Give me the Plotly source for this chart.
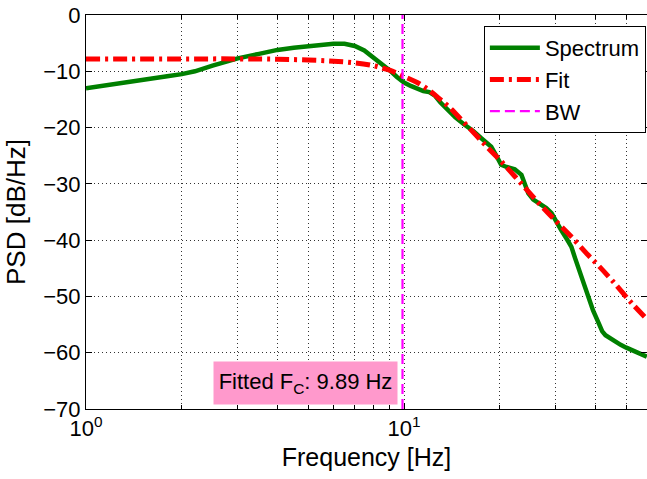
import numpy as np
import plotly.graph_objects as go

# Measured PSD spectrum (frequency in Hz, level in dB/Hz)
spec_freq = [1.0, 1.2, 1.5, 1.8, 2.0, 2.2, 2.5, 2.8, 3.0, 3.5, 4.0, 4.5, 5.0, 5.5,
             6.0, 6.5, 7.0, 7.5, 8.0, 8.5, 9.0, 9.5, 10.0, 10.5, 11.0, 11.5, 12.0,
             12.5, 13.0, 13.7, 14.5, 15.5, 16.5, 17.5, 18.8, 19.5, 20.2, 21.0, 22.3,
             23.4, 24.0, 24.6, 25.5, 26.5, 28.0, 29.1, 30.0, 31.2, 32.5, 33.6, 34.5,
             35.5, 36.7, 38.0, 39.3, 40.9, 42.0, 43.0, 44.5, 46.0, 48.0, 50.0, 53.0,
             56.0, 58.0]
spec_db = [-13.0, -12.4, -11.6, -10.9, -10.5, -10.0, -9.0, -8.2, -7.7, -6.9, -6.2,
           -5.8, -5.5, -5.3, -5.1, -5.1, -5.5, -6.3, -7.5, -8.6, -9.8, -11.0, -12.0,
           -12.6, -13.1, -13.5, -13.7, -14.3, -15.5, -16.9, -18.2, -19.5, -20.6,
           -21.9, -23.4, -25.0, -26.6, -27.0, -27.4, -28.4, -30.2, -31.7, -32.8,
           -33.4, -34.3, -35.2, -36.6, -38.2, -39.8, -41.2, -43.2, -45.3, -47.6,
           -50.0, -52.5, -54.7, -56.2, -56.9, -57.5, -58.1, -58.6, -59.1, -59.7,
           -60.3, -60.7]

# Fitted low-pass model
fit_freq = [1.0, 2.0, 3.0, 4.0, 5.0, 6.0, 7.0, 8.0, 8.5, 9.0, 9.89, 11.0, 12.0,
            13.0, 14.0, 15.2, 17.0, 18.5, 20.2, 23.0, 26.6, 30.0, 33.6, 38.0, 41.0,
            45.0, 52.0, 58.0]
fit_db = [-7.8, -7.8, -7.8, -7.85, -8.0, -8.2, -8.5, -9.0, -9.4, -9.8, -10.8,
          -12.0, -13.4, -15.0, -16.6, -18.7, -21.6, -23.8, -26.0, -29.5, -33.5,
          -36.6, -39.4, -42.7, -44.6, -47.1, -51.2, -54.0]

# Fitted cutoff frequency
fc_hz = 9.89
y_range = [-70, 0]

minor_x = [2, 3, 4, 5, 6, 7, 8, 9, 20, 30, 40, 50]

fig = go.Figure()
fig.add_trace(go.Scatter(x=spec_freq, y=spec_db, mode="lines", name="Spectrum",
                         line=dict(color="#008000", width=4.5)))
fig.add_trace(go.Scatter(x=fit_freq, y=fit_db, mode="lines", name="Fit",
                         line=dict(color="#ff0000", width=5, shape="spline",
                                   dash="14px,5px,3px,5px")))
fig.add_trace(go.Scatter(x=[fc_hz, fc_hz], y=y_range, mode="lines", name="BW",
                         line=dict(color="#ff00ff", width=2.2, dash="10px,5px")))

fig.add_annotation(
    x=np.log10(2.5), y=-65.3, xref="x", yref="y",
    xanchor="left", yanchor="middle",
    text=f"Fitted F<sub>C</sub>: {fc_hz:.2f} Hz",
    showarrow=False, bgcolor="#ff99cc", width=179, height=38, borderpad=2,
    font=dict(family="Liberation Sans, Arial", size=22, color="black"),
)

grid = dict(showgrid=True, gridcolor="rgba(0,0,0,0.8)", gridwidth=1, griddash="1px,3px")

fig.update_layout(
    width=647, height=479,
    margin=dict(l=86, r=0, t=15, b=70),
    paper_bgcolor="white", plot_bgcolor="white",
    font=dict(family="Liberation Sans, Arial", size=22, color="black"),
    showlegend=True,
    legend=dict(x=0.998, y=0.972, xanchor="right", yanchor="top",
                bgcolor="white", bordercolor="black", borderwidth=1,
                font=dict(size=22), itemwidth=50, tracegroupgap=0),
    xaxis=dict(
        type="log", range=[0, 1.764],
        tickvals=[1, 10], ticktext=["10<sup>0</sup>", "10<sup>1</sup>"],
        ticks="inside", ticklen=6, tickcolor="black",
        showline=True, linecolor="black", linewidth=1, mirror="allticks",
        minor=dict(tickvals=minor_x, ticks="inside", ticklen=4, tickcolor="black", **grid),
        zeroline=False,
        title=dict(text="Frequency [Hz]", font=dict(size=25), standoff=8),
        **grid,
    ),
    yaxis=dict(
        range=y_range, tickvals=[-70, -60, -50, -40, -30, -20, -10, 0],
        ticks="inside", ticklen=6, tickcolor="black",
        showline=True, linecolor="black", linewidth=1, mirror="allticks",
        zeroline=False, ticklabelstandoff=0,
        title=dict(text="PSD [dB/Hz]", font=dict(size=26), standoff=10),
        **grid,
    ),
)

fig.write_html("out.html")
